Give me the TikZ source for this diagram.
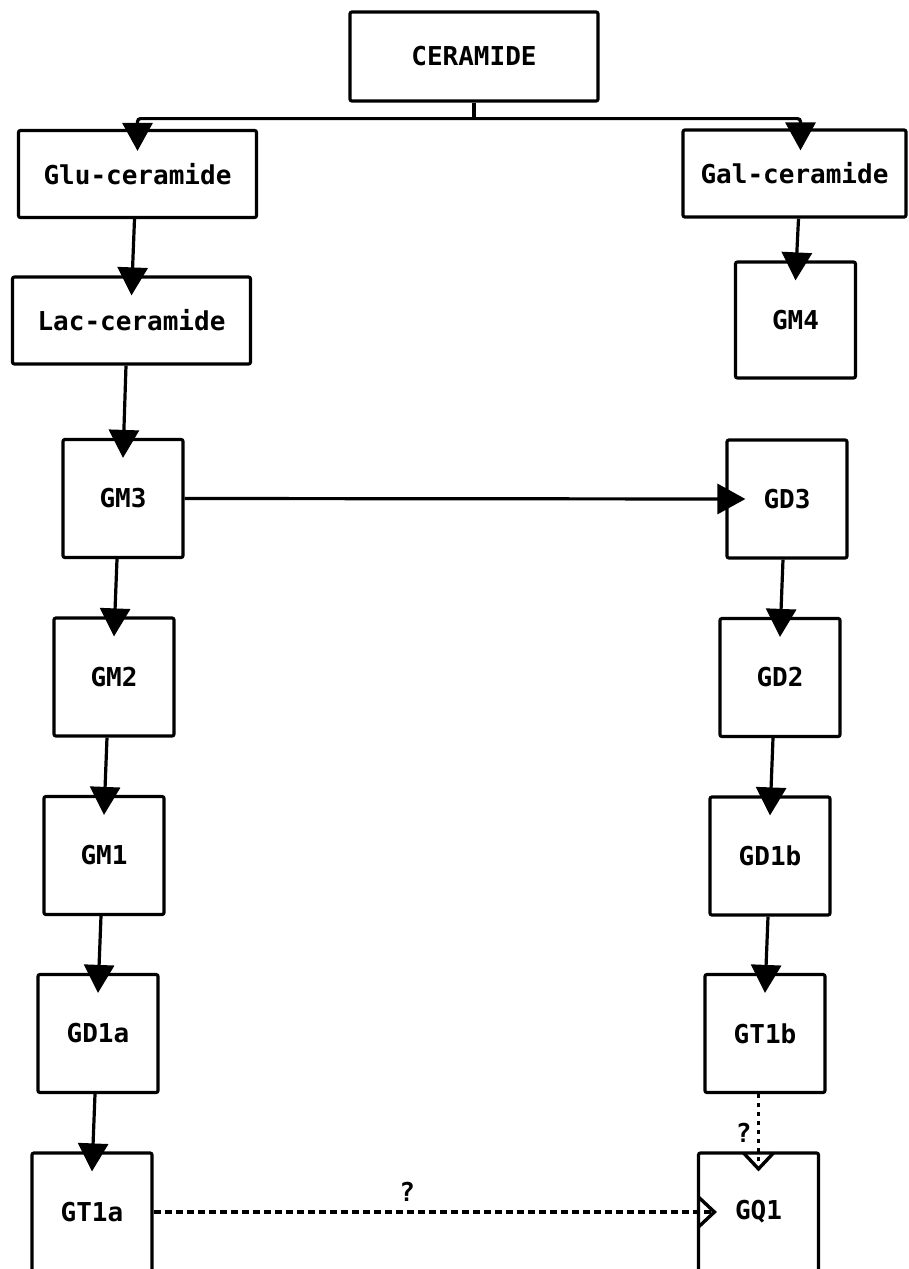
\documentclass[tikz,border=0pt]{standalone}
\usepackage{fontspec}
\setmainfont{DejaVu Sans Mono}
\usetikzlibrary{arrows.meta, positioning}

\begin{document}
\begin{tikzpicture}[x=1pt, y=-1pt, line width=3.2pt,
	box/.style={draw, rounded corners=2pt, inner sep=0pt, minimum width=120pt, minimum height=118pt,
		font=\fontsize{26}{30}\selectfont\bfseries},
	wide/.style={box, minimum width=238pt, minimum height=87pt},
	arr/.style={-{Triangle[length=28pt,width=30pt]}},
	guess/.style={-{Straight Barb[length=16pt,width=30pt,line width=3.4pt]}}]
	\useasboundingbox (0,0) rectangle (908,1269);
	\clip (0,0) rectangle (908,1269);
	\node[wide, minimum width=248pt, minimum height=89pt] (ceramide) at (474,56.5) {CERAMIDE};
	\node[wide] (glu) at (137.5,174)   {Glu-ceramide};
	\node[wide, minimum width=223pt] (gal) at (794.5,173.5) {Gal-ceramide};
	\node[wide] (lac) at (131.5,320.5) {Lac-ceramide};
	\node[box, minimum height=116pt] (gm4) at (795.5,320) {GM4};
	% left column
	\node[box] (gm3)  at (123,498.5)  {GM3};
	\node[box] (gm2)  at (114,677)    {GM2};
	\node[box] (gm1)  at (104,855.5)  {GM1};
	\node[box] (gd1a) at (98,1033.5)  {GD1a};
	\node[box] (gt1a) at (92,1212)    {GT1a};
	% right column
	\node[box] (gd3)  at (787,499)    {GD3};
	\node[box] (gd2)  at (780,677.5)  {GD2};
	\node[box] (gd1b) at (770,856)    {GD1b};
	\node[box] (gt1b) at (765,1033.5) {GT1b};
	\node[box] (gq1)  at (758.5,1212) {GQ1};
	% split below ceramide
	\coordinate (split) at ([yshift=-16pt]ceramide.south);
	\draw (ceramide.south) -- (split);
	\draw[arr, rounded corners=3pt] (split) -| ([yshift=-22pt]glu.north);
	\draw[arr, rounded corners=3pt] (split) -| ([xshift=6pt, yshift=-22pt]gal.north);
	\foreach \from/\to in {glu/lac, gal/gm4, lac/gm3, gm3/gm2, gm2/gm1, gm1/gd1a, gd1a/gt1a,
		gd3/gd2, gd2/gd1b, gd1b/gt1b}
		\draw[arr] ([xshift=3pt]\from.south -| \to.north) -- ([yshift=-20pt]\to.north);
	\draw[arr] (gm3.east) -- ([xshift=20pt]gd3.west);
	% uncertain steps
	\draw[guess, dash pattern=on 7pt off 4pt] (gt1a.east) -- ([xshift=20pt]gq1.west)
		node[pos=0.45, above=6pt, font=\fontsize{26}{30}\selectfont\bfseries] {?};
	\draw[guess, dash pattern=on 4pt off 5pt] (gt1b.south -| gq1.north) -- ([yshift=-20pt]gq1.north)
		node[midway, left=2pt, font=\fontsize{26}{30}\selectfont\bfseries] {?};
\end{tikzpicture}
\end{document}
